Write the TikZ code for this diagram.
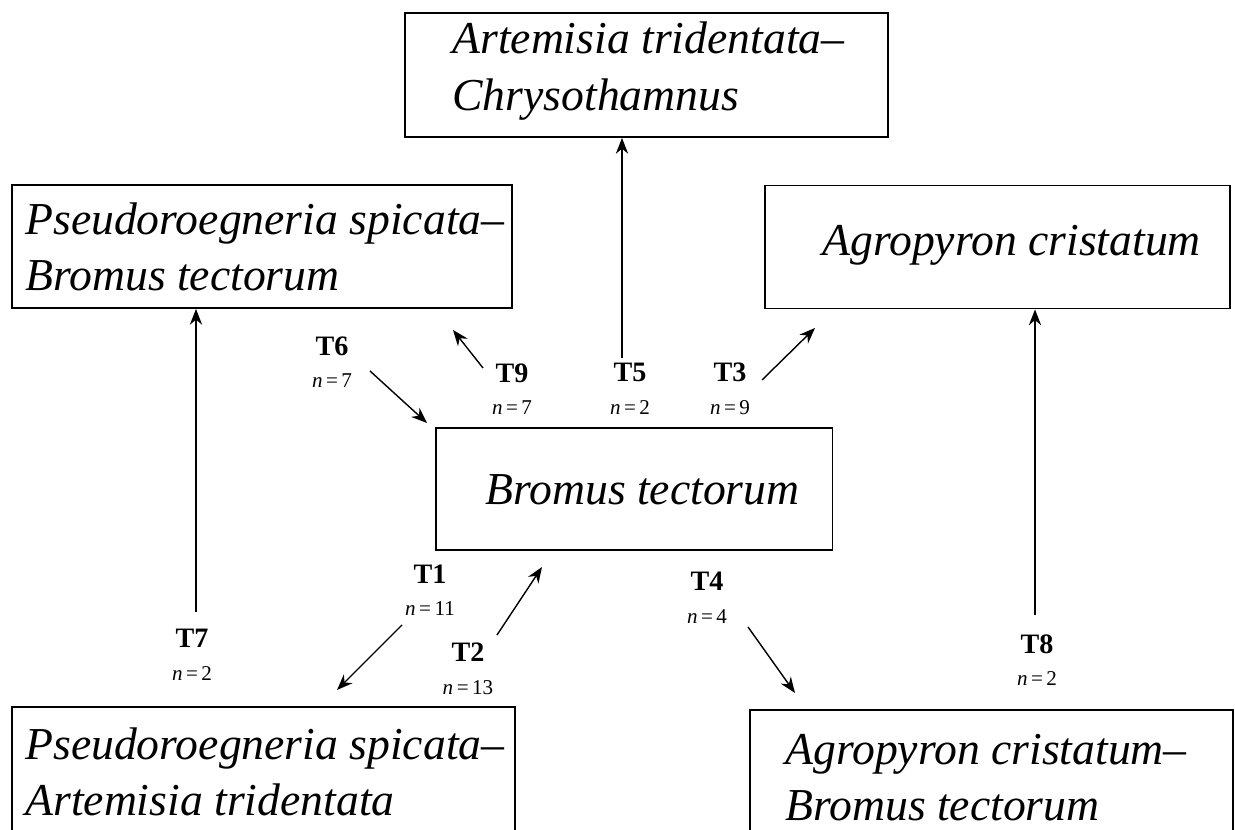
\documentclass[tikz,border=0pt]{standalone}
\usepackage{fontspec}
\setmainfont{Liberation Serif}
\usetikzlibrary{arrows.meta}
\newcommand{\trans}[2]{\textbf{#1}\\{\fontsize{12}{12}\selectfont\textit{n}\,=\,#2}}

\begin{document}
\begin{tikzpicture}[x=0.02cm, y=-0.02cm,
    box/.style={draw, line width=1.1pt, inner sep=0pt},
    comm/.style={font=\fontsize{26}{32}\selectfont\itshape, align=left, inner sep=0pt, anchor=west},
    lbl/.style={font=\fontsize{16}{18.5}\selectfont, align=center, inner sep=0pt},
    arr/.style={-{Stealth[length=9pt, width=7pt]}, line width=0.8pt}]
            \clip (0, 0) rectangle (1235, 830);
            % community boxes
            \node[box, minimum width=9.66cm, minimum height=2.48cm] (top) at (646.5, 75) {};
            \node[box, minimum width=10cm, minimum height=2.46cm] (psb) at (262, 246.5) {};
            \node[box, minimum width=9.3cm, minimum height=2.46cm] (agc) at (997.5, 247) {};
            \node[box, minimum width=7.94cm, minimum height=2.44cm] (brt) at (634, 489) {};
            \node[box, minimum width=10.06cm, minimum height=2.6cm] (psa) at (263.5, 772) {};
            \node[box, minimum width=9.66cm, minimum height=2.6cm] (agb) at (991.5, 775) {};
            \node[comm] (topx) at (452, 71) {Artemisia tridentata--\\Chrysothamnus};
            \node[comm] (psbx) at (25, 247) {Pseudoroegneria spicata--\\Bromus tectorum};
            \node[comm] (agcx) at (822, 245) {Agropyron cristatum};
            \node[comm] (brtx) at (485, 490) {Bromus tectorum};
            \node[comm] (psax) at (25, 772) {Pseudoroegneria spicata--\\Artemisia tridentata};
            \node[comm] (agbx) at (785, 778) {Agropyron cristatum--\\Bromus tectorum};
            % transition labels
            \node[lbl] (l6) at (332, 362) {\trans{T6}{7}};
            \node[lbl] (l9) at (512, 389) {\trans{T9}{7}};
            \node[lbl] (l5) at (630, 389) {\trans{T5}{2}};
            \node[lbl] (l3) at (730, 389) {\trans{T3}{9}};
            \node[lbl] (l1) at (430, 590) {\trans{T1}{11}};
            \node[lbl] (l2) at (468, 669) {\trans{T2}{13}};
            \node[lbl] (l4) at (707, 598) {\trans{T4}{4}};
            \node[lbl] (l7) at (192, 655) {\trans{T7}{2}};
            \node[lbl] (l8) at (1037, 660) {\trans{T8}{2}};
            % arrows
            \coordinate (a5) at (622, 358);
            \coordinate (a7) at (196, 612);
            \coordinate (a8) at (1035, 615);
            \draw[arr] (a5) -- (a5 |- top.south);
            \draw[arr] (a7) -- (a7 |- psb.south);
            \draw[arr] (a8) -- (a8 |- agc.south);
            \coordinate (a6s) at (370, 371);
            \coordinate (a6e) at (427, 423);
            \coordinate (a9s) at (483, 368);
            \coordinate (a9e) at (453, 330);
            \coordinate (a3s) at (762, 380);
            \coordinate (a3e) at (815, 328);
            \coordinate (a1s) at (402, 625);
            \coordinate (a1e) at (337, 690);
            \coordinate (a2s) at (497, 635);
            \coordinate (a2e) at (542, 567);
            \coordinate (a4s) at (748, 627);
            \coordinate (a4e) at (795, 693);
            \draw[arr] (a6s) -- (a6e);
            \draw[arr] (a9s) -- (a9e);
            \draw[arr] (a3s) -- (a3e);
            \draw[arr] (a1s) -- (a1e);
            \draw[arr] (a2s) -- (a2e);
            \draw[arr] (a4s) -- (a4e);
\end{tikzpicture}
\end{document}
